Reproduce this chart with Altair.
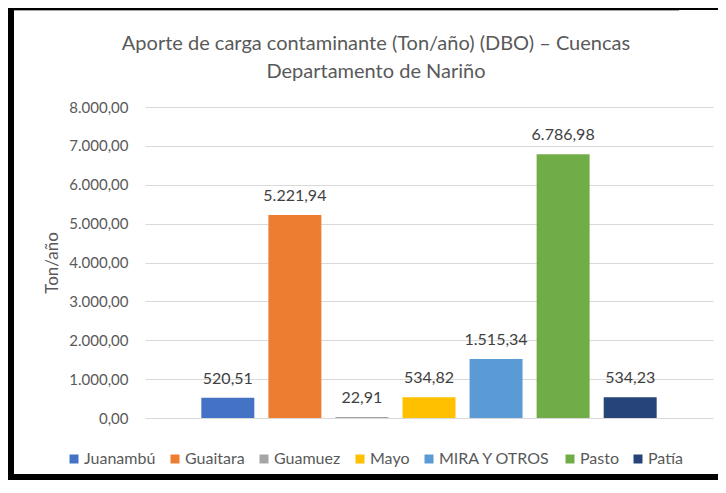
import altair as alt
import pandas as pd

categories = ["Juanambú", "Guaitara", "Guamuez", "Mayo", "MIRA Y OTROS", "Pasto", "Patía"]
values = [520.51, 5221.94, 22.91, 534.82, 1515.34, 6786.98, 534.23]
colors = ["#4472C4", "#ED7D31", "#A5A5A5", "#FFC000", "#5B9BD5", "#70AD47", "#264478"]
y_ticks = [0, 1000, 2000, 3000, 4000, 5000, 6000, 7000, 8000]
title_lines = ["Aporte de carga contaminante (Ton/año) (DBO) – Cuencas", "Departamento de Nariño"]

df = pd.DataFrame({"cuenca": categories, "valor": values})

FONT = "Lato"
GREY = "#595959"

x_enc = alt.X("cuenca:N", sort=categories, axis=None,
              scale=alt.Scale(paddingInner=0.21, paddingOuter=0.84))
y_enc = alt.Y("valor:Q",
              scale=alt.Scale(domain=[0, 8000], nice=False),
              axis=alt.Axis(values=y_ticks, format=",.2f", title="Ton/año",
                            domain=False, ticks=False, grid=True,
                            gridColor="#d9d9d9", gridWidth=1,
                            labelFont=FONT, labelFontSize=15, labelColor=GREY,
                            labelPadding=17, labelOverlap=False,
                            titleFont=FONT, titleFontSize=17, titleColor=GREY,
                            titleFontWeight="normal", titlePadding=7))

base = alt.Chart(df)

bars = base.mark_bar().encode(
    x=x_enc,
    y=y_enc,
    color=alt.Color("cuenca:N", sort=categories,
                    scale=alt.Scale(domain=categories, range=colors),
                    legend=alt.Legend(title=None, orient="none", direction="horizontal",
                                      legendX=-79, legendY=344,
                                      symbolType="square", symbolSize=81,
                                      symbolStrokeWidth=0, labelOffset=2,
                                      columnPadding=11, gridAlign="none",
                                      labelFont=FONT, labelFontSize=16,
                                      labelColor=GREY)),
)

labels = base.mark_text(dy=-19, baseline="middle", fontSize=16,
                        color="#404040", font=FONT).encode(
    x=x_enc,
    y=y_enc,
    text=alt.Text("valor:Q", format=",.2f"),
)

frame = alt.Chart(alt.Data(values=[{"k": 1}]))
title1 = frame.mark_text(text=title_lines[0], font=FONT, fontSize=20, color=GREY,
                         align="center", baseline="middle").encode(
    x=alt.value(231), y=alt.value(-63))
title2 = frame.mark_text(text=title_lines[1], font=FONT, fontSize=20, color=GREY,
                         align="center", baseline="middle").encode(
    x=alt.value(231), y=alt.value(-35))
left_border = frame.mark_rect(color="black").encode(
    x=alt.value(-137), x2=alt.value(-131), y=alt.value(-99), y2=alt.value(373))
top_border = frame.mark_rect(color="black").encode(
    x=alt.value(-137), x2=alt.value(573), y=alt.value(-99), y2=alt.value(-97))
bottom_border = frame.mark_rect(color="black").encode(
    x=alt.value(-137), x2=alt.value(573), y=alt.value(367), y2=alt.value(373))
grey_line = frame.mark_rect(color="#a6a6a6").encode(
    x=alt.value(-131), x2=alt.value(534), y=alt.value(-97), y2=alt.value(-96))

chart = alt.layer(bars, labels, title1, title2, left_border, top_border,
                  bottom_border, grey_line).properties(
    width=568,
    height=311,
    autosize=alt.AutoSizeParams(type="none"),
    padding={"left": 137, "top": 99, "right": 5, "bottom": 62},
    background="white",
).configure(
    view={"stroke": None},
    locale={"number": {"decimal": ",", "thousands": ".", "grouping": [3], "currency": ["", ""]}},
)

chart.save("out.html", embed_options={"renderer": "svg", "actions": False})
